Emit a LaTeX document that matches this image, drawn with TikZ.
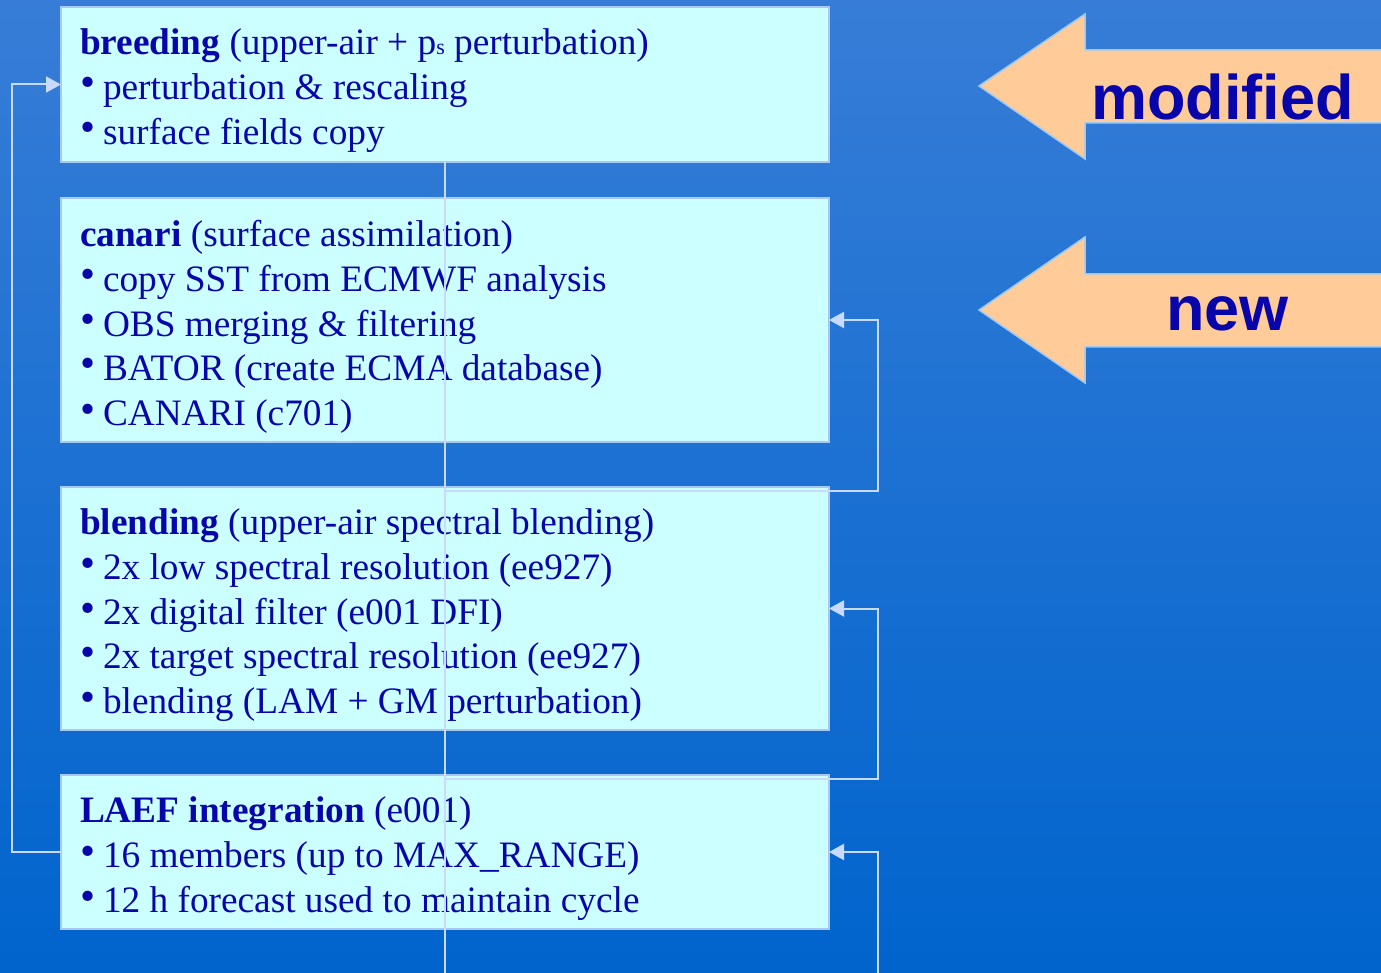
\documentclass[tikz,border=0pt]{standalone}
\usepackage{fontspec}
\setmainfont{Liberation Serif}
\newfontfamily\labelsans{Liberation Sans}
\usetikzlibrary{arrows.meta}
\definecolor{txtblue}{RGB}{8,6,170}
\definecolor{boxfill}{RGB}{204,255,255}
\definecolor{boxline}{RGB}{170,200,245}
\definecolor{conline}{RGB}{200,218,255}
\definecolor{peach}{RGB}{255,204,153}
\definecolor{arrowline}{RGB}{160,200,240}
\definecolor{bgtop}{RGB}{55,125,215}
\definecolor{bgbot}{RGB}{0,100,205}
\newcommand\bul{\makebox[23pt][l]{\raisebox{2.5pt}{\scalebox{1.15}{\textbullet}}}}
\newcommand\subs[1]{{\fontsize{22}{22}\selectfont #1}}
\begin{document}
\begin{tikzpicture}[x=1pt,y=-1pt,
  stagebox/.style={draw=boxline, line width=2pt, fill=boxfill, rectangle,
    anchor=north west, inner sep=0pt, outer sep=0pt, minimum width=768pt},
  txt/.style={anchor=base west, inner sep=0pt, outer sep=0pt, text=txtblue,
    font=\fontsize{37.3}{45}\selectfont},
  conn/.style={draw=conline, line width=2pt},
  arr/.style={conn, -{Triangle[length=15pt,width=16pt]}},
  blockarrow/.style={fill=peach, draw=arrowline, line width=1.5pt},
  tag/.style={anchor=base west, inner sep=0pt, outer sep=0pt, text=txtblue,
    font=\labelsans\bfseries\fontsize{63}{70}\selectfont}]
\fill[top color=bgtop, bottom color=bgbot] (0,0) rectangle (1381,973);
\useasboundingbox (0,0) rectangle (1381,973);

% boxes
\node[stagebox, minimum height=155pt] (b1) at (61,7) {};
\node[stagebox, minimum height=244pt] (b2) at (61,198) {};
\node[stagebox, minimum height=243pt] (b3) at (61,487) {};
\node[stagebox, minimum height=154pt] (b4) at (61,775) {};

% box 1
\node[txt] (t11) at (80,54.5) {\textbf{breeding} (upper-air + p\subs{s} perturbation)};
\node[txt] (t12) at (80,99.5) {\bul perturbation \& rescaling};
\node[txt] (t13) at (80,144.5) {\bul surface fields copy};
% box 2
\node[txt] (t21) at (80,246.5) {\textbf{canari} (surface assimilation)};
\node[txt] (t22) at (80,291.5) {\bul copy SST from ECMWF analysis};
\node[txt] (t23) at (80,336.5) {\bul OBS merging \& filtering};
\node[txt] (t24) at (80,380.5) {\bul BATOR (create ECMA database)};
\node[txt] (t25) at (80,425.5) {\bul CANARI (c701)};
% box 3
\node[txt] (t31) at (80,534.5) {\textbf{blending} (upper-air spectral blending)};
\node[txt] (t32) at (80,579.5) {\bul 2x low spectral resolution (ee927)};
\node[txt] (t33) at (80,624.5) {\bul 2x digital filter (e001 DFI)};
\node[txt] (t34) at (80,668.5) {\bul 2x target spectral resolution (ee927)};
\node[txt] (t35) at (80,713.5) {\bul blending (LAM + GM perturbation)};
% box 4
\node[txt] (t41) at (80,822.5) {\textbf{LAEF integration} (e001)};
\node[txt] (t42) at (80,867.5) {\bul 16 members (up to MAX\_RANGE)};
\node[txt] (t43) at (80,912.5) {\bul 12 h forecast used to maintain cycle};

% connectors
\coordinate (trunkEnd) at (445,973);
\coordinate (j2) at (445,490.5);
\coordinate (j3) at (445,778.5);
\coordinate (bot) at (878,973);
\draw[conn] (b1.south) -- (trunkEnd);
\draw[arr] (j2) -- ++(433,0) |- (b2.east);
\draw[arr] (j3) -- ++(433,0) |- (b3.east);
\draw[arr] (bot) |- (b4.east);
\draw[arr] (b4.west) -- ++(-49,0) |- (b1.west);

% block arrows
\path[blockarrow] (1395,50) -- (1085,50) -- (1085,14) -- (979,86) -- (1085,159)
  -- (1085,123) -- (1395,123) -- cycle;
\path[blockarrow] (1395,274) -- (1085,274) -- (1085,237) -- (979,310) -- (1085,383)
  -- (1085,347) -- (1395,347) -- cycle;
\node[tag] (lmod) at (1091,120) {modified};
\node[tag] (lnew) at (1166,331) {new};
\end{tikzpicture}
\end{document}
